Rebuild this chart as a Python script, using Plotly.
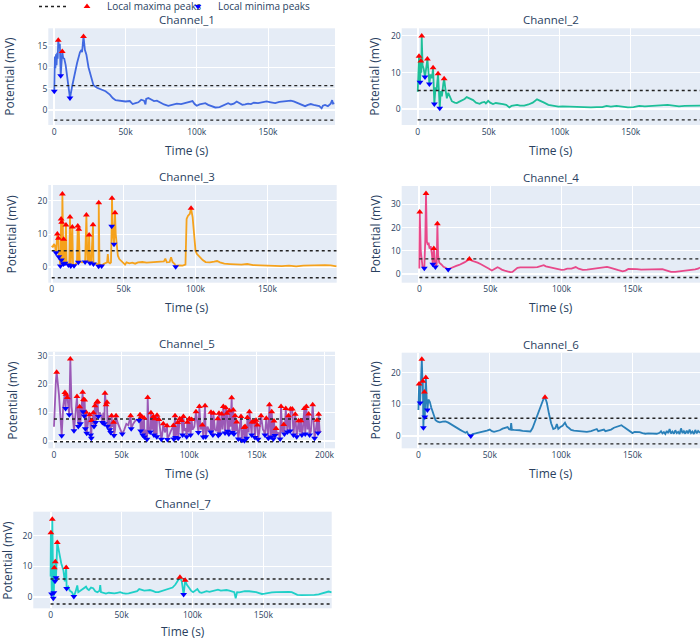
import plotly.graph_objects as go

# ---------------- data (time in thousands of seconds, potential in mV) ----------------
ch1_t = [0.4, 0.8, 1.2, 1.6, 2.0, 2.4, 3.4, 3.9, 5.0, 6.2, 7.0, 8.0, 9.0, 10.0, 12.5, 14, 16, 18, 19, 19.5,
         21.5, 22.5, 24, 25.5, 27.5, 30, 33, 36, 39, 41, 43, 46, 50, 53, 55, 57, 59, 61, 63, 64, 64.5, 66, 68, 70,
         72, 74, 77, 80, 83, 86, 89, 92, 95, 97, 98.5, 100, 102, 104, 106, 108, 110, 113, 116, 118, 120, 122, 124,
         126, 128, 130, 132, 134, 136, 138, 140, 143, 146, 149, 152, 155, 158, 161, 164, 166, 168, 170, 172, 174,
         176, 178, 180, 182, 184, 186, 187.6, 188.5, 190, 192, 194, 195, 195.6, 196.5]
ch1_v = [12.5, 9.8, 13.0, 10.5, 13.4, 12.0, 14.5, 15.5, 11.5, 12.2, 12.0, 10.5, 8.0, 5.0, 5.5, 8.0, 11.0, 13.5, 14.0, 13.5,
         14.0, 13.0, 10.0, 8.0, 5.8, 5.2, 4.8, 4.4, 3.6, 2.8, 2.3, 2.1, 2.0, 2.1, 1.4, 1.6, 1.8, 2.4, 2.2, 1.3, 2.6, 2.8, 2.4, 2.1,
         2.2, 1.8, 1.3, 1.0, 1.2, 1.5, 1.4, 1.6, 1.8, 2.1, 1.4, 1.0, 1.3, 1.5, 1.6, 1.2, 0.9, 0.6, 0.7, 1.0, 1.2, 1.6, 1.3,
         1.5, 2.0, 1.5, 1.2, 1.3, 1.5, 1.4, 1.7, 1.6, 1.8, 2.0, 1.8, 1.6, 1.9, 2.0, 2.1, 2.2, 2.0, 1.7, 1.5, 1.1,
         0.9, 1.2, 1.4, 1.2, 1.0, 0.9, 0.4, 1.0, 1.2, 0.9, 1.5, 2.3, 1.5, 1.6]
ch1_max_t = [2.8, 5.6, 20.5]
ch1_max_v = [16.3, 13.7, 17.2]
ch1_min_t = [0.0, 4.5, 11.0]
ch1_min_v = [4.4, 8.0, 2.8]
ch1_thr = [5.7, -2.35]

ch2_t = [0, 0.4, 2.5, 3.4, 4.2, 5.8, 7.5, 9.0, 10.0, 12.5, 13.2, 14.9, 16.2, 17, 18, 19.5, 20.5, 21.5, 22.8, 24, 26,
         27.5, 29, 31, 33, 34.5, 36, 38, 39, 41, 43.6, 45, 47, 48, 49.6, 51, 53, 55, 57, 60, 62.3, 64.5, 66, 68, 70, 72,
         75, 78, 81, 84, 86, 89, 92, 95, 99, 102, 106, 110, 114, 118, 122, 126, 130, 133, 136, 140, 144, 148, 152, 156,
         160, 164, 168, 172, 176, 180, 184, 188, 192, 196, 198.8]
ch2_v = [4.8, 10.0, 10.0, 12.0, 11.0, 11.5, 10.5, 9.5, 8.5, 6.0, 5.0, 4.5, 5.0, 3.5, 7.0, 5.5, 3.0, 4.5, 3.0, 2.2, 1.8,
         1.7, 2.0, 2.3, 2.8, 3.3, 3.0, 2.6, 2.5, 1.8, 1.5, 1.8, 2.0, 1.6, 2.3, 1.8, 1.4, 1.7, 1.5, 1.4, 1.2, 0.5, 0.9, 1.1, 1.2, 1.0,
         1.0, 1.3, 1.8, 2.7, 2.4, 1.8, 1.2, 1.0, 0.7, 0.8, 0.7, 0.8, 0.5, 0.4, 0.5, 0.6, 0.6, 0.9, 0.7, 0.9, 0.7, 0.5, 0.6, 0.9,
         0.8, 0.9, 1.1, 1.1, 1.2, 1.0, 0.8, 0.9, 1.0, 1.1, 1.0]
ch2_max_t = [0.9, 2.2, 2.8, 6.8, 10.8, 14.3, 18.6]
ch2_max_v = [14.5, 13.2, 20.0, 13.7, 11.3, 9.7, 8.3]
ch2_min_t = [1.6, 5.1, 8.2, 11.7, 15.5]
ch2_min_v = [7.4, 8.8, 6.9, 1.4, 0.3]
ch2_thr = [5.1, -2.9]

ch3_t = [0, 0.8, 1.5, 2.2, 5.5, 7.1, 7.7, 8.7, 10.3, 11, 12.2, 14.8, 16.5, 17.5, 19.5, 21, 22, 24.8, 25.5, 27.5, 30.5,
         31.5, 33.2, 34, 36, 37.5, 38.5, 39, 39.5, 40.5, 41.2, 42.5, 43, 43.7, 44.5, 45, 46, 47, 48.5, 50, 51, 52, 54, 56,
         58, 60, 63, 66, 69, 72, 75, 78, 79, 80, 82, 83, 84, 85.5, 87, 89, 91, 93, 93.8, 94.8, 96, 98, 99, 100, 101, 102,
         103.5, 105, 107, 110, 113, 115, 117, 120, 124, 128, 132, 136, 140, 145, 150, 155, 160, 165, 170, 175, 180, 185,
         190, 194, 198.2]
ch3_v = [6.5, 6.0, 7.0, 6.5, 2.5, 5.0, 2.0, 1.5, 1.5, 1.0, 1.2, 1.0, 1.0, 1.5, 1.8, 1.5, 1.5, 1.8, 1.5, 1.8, 1.2,
         1.0, 1.0, 0.8, 1.0, 1.2, 1.5, 4.0, 1.5, 1.2, 1.5, 10.0, 8.0, 12.0, 10.0, 7.0, 3.5, 2.5, 1.8, 1.0, 0.8, 1.5, 1.2, 1.4,
         1.1, 1.5, 1.6, 1.4, 1.5, 1.7, 1.6, 1.8, 2.6, 1.5, 1.6, 3.0, 1.6, 1.0, 0.5, 0.6, 0.5, 0.8, 14.5, 15.5, 16.0, 15.0, 10.0,
         5.0, 4.0, 3.5, 2.8, 2.2, 1.6, 1.5, 1.7, 1.9, 1.5, 1.1, 1.0, 0.9, 0.8, 1.0, 0.7, 0.6, 0.5, 0.6, 0.4, 0.5, 0.3, 0.5,
         0.6, 0.5, 0.7, 0.6, 0.3]
ch3_max_t = [3.9, 4.6, 6.5, 6.9, 7.4, 8.3, 9.9, 12.7, 14.3, 18.1, 18.8, 24.1, 26.0, 28.7, 32.7, 41.9, 44.0, 96.9]
ch3_max_v = [10.0, 8.7, 14.5, 13.5, 22.0, 8.4, 12.7, 15.1, 12.1, 12.4, 11.4, 15.7, 9.7, 12.8, 19.4, 20.7, 16.4, 17.7]
ch3_min_t = [3.0, 4.9, 6.0, 6.7, 8.1, 9.2, 11.6, 13.2, 15.5, 18.5, 23.2, 26.6, 29.0, 32.6, 34.7, 41.7, 43.3, 86.2]
ch3_min_v = [4.4, 3.2, 0.4, 2.2, 1.0, 1.2, 0.7, 0.4, 0.5, 1.5, 1.6, 1.3, 1.0, 0.3, 0.4, 12.3, 6.9, 0.2]
ch3_thr = [5.0, -3.1]

ch4_t = [0, 1.0, 1.5, 2.2, 4.2, 5.3, 6.0, 6.5, 7.2, 8.0, 8.8, 10.8, 12.2, 13.2, 14, 15.5, 17, 18.5, 22, 24, 26, 28,
         30, 32, 33.5, 37, 39, 41, 43, 45, 47, 49, 51, 53, 55, 56.5, 58, 60, 62, 64, 65.5, 67, 69, 71, 74, 77, 80, 83, 86,
         87.5, 89, 92, 95, 98, 100, 102, 104, 107, 110, 112, 115, 118, 121, 124, 127, 130, 132, 134, 137, 140, 143, 145,
         147, 150, 153, 156, 159, 162, 165, 168, 171, 173, 175, 177, 180, 183, 186, 189, 192, 194, 196, 197.4]
ch4_v = [2.5, 10.0, 6.0, 3.5, 15.0, 14.0, 12.5, 13.5, 11.0, 12.0, 9.0, 5.0, 4.5, 8.0, 5.0, 4.2, 3.2, 2.8, 2.6, 3.2, 3.6, 4.0,
         4.5, 5.2, 5.8, 5.8, 5.5, 5.0, 4.4, 3.8, 3.0, 2.4, 1.6, 2.2, 3.0, 2.6, 2.0, 1.6, 1.2, 0.9, 1.0, 1.8, 2.8, 3.0, 2.9, 3.0,
         3.0, 3.1, 3.5, 3.9, 3.4, 3.0, 2.8, 2.2, 1.9, 2.0, 2.4, 2.4, 3.1, 2.4, 1.9, 2.0, 2.2, 2.5, 2.6, 3.0, 3.2, 2.9, 2.5, 1.8,
         1.3, 1.6, 2.3, 2.4, 2.2, 2.0, 2.0, 2.1, 2.0, 2.2, 2.2, 1.8, 1.3, 1.0, 1.0, 1.2, 1.5, 1.5, 1.7, 2.1, 2.4, 2.9]
ch4_max_t = [0.3, 4.7, 10.2, 12.7, 35.2]
ch4_max_v = [26.7, 34.6, 11.0, 21.6, 6.6]
ch4_min_t = [3.5, 9.5, 11.3, 20.3]
ch4_min_v = [2.6, 4.3, 3.1, 2.1]
ch4_thr = [6.6, -1.4]

ch5_t = [0, 0.8, 1.4, 3.0, 3.7, 4.4, 5.0, 6.8, 10.5, 13.0, 14.0, 15.8, 16.5, 24.8, 25.6, 28.5, 33.8, 34.8, 36.5, 40.2,
         43.2, 45.2, 47.0, 48.5, 52.0, 53.5, 55.0, 58.5, 60.0, 61.5, 67.5, 70.2, 72.5, 75.2, 78.5, 80.0, 82.0, 85.0,
         86.5, 90.6, 92.3, 96.5, 97.5, 99.3, 102.5, 103.8, 108.5, 113.5, 114.5, 119.0, 120.2, 124.6, 130.5, 134.5,
         137.0, 139.5, 144.0, 145.5, 151.8, 154.5, 155.2, 165.0, 166.0, 168.8, 181.8, 184.0, 187.5, 190.0, 193.5,
         196.5, 197.5]
ch5_v = [5.0, 20.0, 21.0, 20.0, 16.2, 11.0, 6.0, 12.0, 13.0, 12.0, 8.0, 9.0, 12.0, 6.0, 8.0, 6.0, 10.0, 9.0, 10.0, 9.0,
         5.0, 4.0, 6.5, 5.0, 4.0, 6.0, 5.5, 6.0, 7.0, 7.5, 4.0, 2.5, 4.0, 3.0, 3.5, 2.0, 3.0, 2.0,
         3.5, 3.0, 3.0, 3.5, 4.5, 3.0, 4.0, 5.0, 4.0, 5.0, 4.0, 4.0, 3.5, 4.0, 5.0, 3.5,
         3.0, 3.0, 3.0, 4.0, 3.0, 4.0, 3.5, 2.0, 3.0, 3.0, 3.0, 4.0, 4.0, 3.5, 3.5,
         3.0, 3.5]
ch5_max_t = [2.0, 8.1, 8.9, 9.9, 12.1, 17.0, 19.0, 21.2, 21.9, 22.7, 23.7, 26.4, 27.9, 29.1, 30.3, 31.6, 32.3, 37.7,
             38.5, 39.2, 42.6, 44.1, 45.9, 56.7, 63.6, 64.8, 66.6, 69.3, 71.7, 73.5, 74.7, 76.2, 77.6, 80.8, 83.6, 88.3,
             89.5, 91.5, 93.0, 94.4, 95.7, 98.6, 100.1, 101.8, 105.0, 107.5, 109.7, 111.7, 116.1, 117.9, 121.1, 122.0,
             124.0, 125.2, 127.0, 127.9, 129.7, 131.4, 132.6, 133.9, 135.1, 138.3, 140.5, 141.3, 143.0, 144.5, 146.5,
             147.9, 149.4, 150.4, 153.1, 157.0, 159.3, 161.0, 162.7, 164.2, 167.9, 169.9, 171.4, 173.4, 174.9, 176.2,
             178.4, 180.9, 182.6, 185.1, 186.6, 188.3, 191.3, 194.5, 195.7]
ch5_max_v = [24.2, 17.0, 16.4, 15.3, 28.8, 15.6, 12.0, 17.1, 14.6, 14.4, 10.1, 9.2, 7.2, 9.9, 12.4, 13.6, 13.9, 16.8,
             12.7, 13.6, 8.9, 6.6, 8.9, 8.9, 9.2, 8.6, 8.1, 15.3, 9.9, 8.6, 7.8, 9.0, 7.5, 6.0, 5.3, 5.4,
             8.9, 6.5, 7.8, 7.2, 8.6, 6.6, 7.8, 7.5, 10.3, 12.1, 5.6, 12.4, 10.1, 9.7, 7.8, 9.7,
             9.5, 12.1, 11.7, 9.7, 10.6, 15.2, 10.9, 8.9, 6.7, 8.6, 4.7, 5.1, 8.2, 10.3, 6.7,
             6.7, 7.3, 5.6, 8.9, 8.0, 12.7, 10.3, 7.0, 4.4, 12.1, 5.8, 11.4, 8.9, 11.2, 11.2,
             9.4, 7.1, 7.1, 11.4, 12.1, 9.5, 12.7, 7.3, 9.4]
ch5_min_t = [5.7, 8.6, 11.3, 14.8, 18.0, 19.5, 21.5, 22.4, 23.2, 24.2, 27.1, 27.6, 29.6, 30.8, 32.8, 35.8, 37.2, 39.6,
             41.2, 41.9, 44.4, 50.5, 57.1, 62.9, 64.1, 65.6, 66.9, 68.8, 71.3, 73.9, 76.0, 79.4, 83.9, 88.6, 89.9, 91.8,
             95.1, 98.1, 101.0, 106.8, 110.4, 112.2, 115.9, 117.5, 121.5, 122.7, 126.5, 128.5, 129.3, 131.9, 133.1,
             136.3, 138.8, 140.8, 142.5, 146.2, 148.6, 150.9, 156.0, 158.5, 160.5, 162.2, 163.4, 167.2, 170.4, 172.6,
             174.6, 177.1, 179.5, 183.3, 185.8, 189.0, 192.7, 195.2]
ch5_min_v = [1.8, 11.4, 9.2, 3.6, 5.1, 6.0, 10.3, 8.8, 4.3, 2.7, 2.1, 0.9, 5.1, 6.5, 8.6, 6.5, 6.0, 5.2,
             3.9, 3.0, 1.9, 2.4, 4.3, 7.2, 3.5, 2.1, 1.4, 0.6, 3.1, 2.1, 1.5, 0.6, 0.5, 0.7, 1.2, 0.9,
             2.1, 1.5, 2.1, 3.0, 1.4, 1.5, 3.1, 2.1, 1.9, 2.4, 2.8, 3.4, 2.4, 3.0, 2.4,
             0.7, 0.2, 0.1, 0.9, 2.1, 1.2, 0.6, 2.1, 0.9, 1.4, 0.7, 1.9, 0.7, 2.4, 3.1,
             3.5, 2.1, 1.5, 2.1, 2.4, 2.1, 0.9, 2.8]
ch5_thr = [7.7, -0.3]

ch6_t = [0, 1.8, 2.8, 4.8, 5.8, 7, 8, 9, 10, 11, 12, 13.5, 15, 17, 19, 21, 23, 25, 27, 29, 31, 33, 34, 35, 38, 40, 42,
         44, 46, 48, 50, 51.5, 53, 55, 57, 59, 61, 62.5, 63.5, 64.5, 65, 65.5, 67, 69, 71, 73, 75, 77, 78.5, 80, 82, 84,
         86, 87.5, 90, 91.5, 93, 94.5, 96, 97, 98, 99.5, 101, 102.7, 104, 105.5, 107, 109, 112, 115, 118, 121, 123, 125,
         126, 128, 130, 131, 133, 135, 137, 139, 141, 142.3, 144, 146, 148, 150, 151.5, 153, 155, 157, 159, 161, 163,
         165, 167, 169, 170, 171, 172, 173, 174, 175, 176, 177, 178, 179, 180, 181, 182, 183, 184, 185, 186, 187, 188,
         189, 190, 191, 192, 193, 194, 195, 196, 197.3]
ch6_v = [8.2, 18.0, 18.0, 14.0, 12.0, 11.5, 10.8, 9.0, 7.5, 6.0, 5.0, 4.5, 4.3, 4.5, 4.6, 4.2, 3.6, 3.2, 2.5, 2.0, 1.5, 1.0,
         1.3, 0.5, 0.6, 0.8, 1.0, 1.1, 1.3, 1.7, 2.0, 1.5, 1.3, 1.5, 1.8, 2.3, 2.6, 2.8, 2.1, 2.0, 4.1, 2.0, 1.9, 1.9, 1.8,
         1.6, 1.5, 1.3, 1.4, 2.5, 5.0, 7.5, 10.0, 11.5, 10.5, 7.0, 4.0, 2.2, 2.5, 3.8, 2.2, 2.8, 3.2, 4.2, 3.0, 2.5, 1.9,
         1.7, 1.5, 1.4, 1.3, 1.5, 1.8, 2.2, 1.5, 1.8, 2.0, 1.5, 1.7, 2.0, 2.6, 3.0, 3.3, 3.4, 2.8, 2.2, 1.5, 0.9, 1.3,
         1.3, 1.2, 0.9, 0.7, 0.8, 0.8, 0.9, 0.7, 1.0, 1.5, 0.8, 1.2, 0.6, 1.6, 0.9, 2.2, 0.8, 1.4, 0.7, 1.8, 0.9, 1.3,
         0.6, 2.4, 0.9, 1.5, 0.7, 1.7, 0.8, 2.0, 0.9, 1.4, 0.6, 1.9, 0.8, 1.6, 1.0]
ch6_max_t = [0.5, 2.4, 3.1, 4.2, 5.2, 88.7]
ch6_max_v = [16.4, 24.2, 17.3, 13.9, 18.5, 12.2]
ch6_min_t = [1.2, 3.5, 4.5, 6.3, 36.7]
ch6_min_v = [10.4, 2.6, 6.0, 8.2, 0.0]
ch6_thr = [5.6, -2.5]

ch7_t = [0, 5.5, 6.6, 7.5, 9.0, 10.0, 12.4, 13.5, 15, 17.5, 18.8, 19.5, 21, 23, 25, 26, 27, 28.5, 30, 31.5, 33, 34.5,
         35, 35.5, 37, 39, 41, 43, 45, 47, 49, 51, 53, 55, 57, 59, 61, 62.5, 64, 66, 68, 70, 72, 74, 76, 78, 80, 82, 84,
         86, 88, 90, 92.5, 96, 97.5, 99, 100.5, 102, 103.5, 105, 106.5, 108, 110, 112, 114, 116, 118, 120, 122, 124, 126,
         128, 129.5, 130.5, 131.5, 133, 135, 137, 140, 143, 145, 147, 149, 151, 153, 156, 159, 162, 165, 168, 170, 172,
         174, 177, 180, 183, 186, 189, 192, 194, 196, 198.2]
ch7_v = [6.6, 15.5, 13.1, 11.0, 8.7, 5.0, 3.3, 2.0, 1.5, 1.5, 3.7, 1.5, 2.0, 2.5, 3.3, 2.5, 2.2, 3.0, 2.8, 1.8, 1.5, 2.0,
         3.8, 1.5, 1.2, 1.0, 1.3, 1.2, 1.1, 1.3, 1.5, 1.2, 1.0, 1.1, 1.3, 1.6, 1.8, 2.5, 2.2, 2.0, 2.1, 2.2, 1.9, 1.5, 1.5,
         1.8, 2.0, 2.2, 2.6, 3.0, 4.0, 5.5, 5.0, 4.0, 3.0, 2.0, 1.5, 2.0, 2.5, 1.5, 1.3, 1.5, 1.8, 1.6, 1.8, 2.0, 2.3, 2.0,
         2.1, 2.2, 2.0, 1.6, 1.5, -0.5, 1.5, 1.4, 1.6, 1.8, 1.8, 1.7, 1.5, 1.2, 0.9, 1.0, 1.2, 1.4, 1.5, 1.6, 1.7, 1.6, 1.5,
         1.0, 0.6, 0.5, 0.5, 0.5, 0.6, 0.8, 1.2, 1.5, 1.7, 1.4]
ch7_max_t = [0.2, 1.2, 2.6, 3.3, 4.7, 11.0, 91.2, 94.9]
ch7_max_v = [21.0, 25.4, 9.5, 11.5, 17.8, 9.6, 6.4, 5.4]
ch7_min_t = [0.7, 1.9, 2.3, 3.1, 3.8, 11.3, 16.4, 93.8]
ch7_min_v = [0.9, -0.5, 1.3, 5.1, 6.2, 2.7, 0.1, 0.7]
ch7_thr = [5.8, -2.4]

channel_names = ["Channel_1", "Channel_2", "Channel_3", "Channel_4", "Channel_5", "Channel_6", "Channel_7"]
channel_colors = ["#4169E1", "#1DBF98", "#F5A21C", "#E8488A", "#9B59B6", "#2A80B9", "#1FD0C8"]
y_dticks = [5, 10, 10, 10, 10, 10, 10]
x_title_text = "Time (s)"
y_title_text = "Potential (mV)"

series = [
    (ch1_t, ch1_v, ch1_max_t, ch1_max_v, ch1_min_t, ch1_min_v, ch1_thr),
    (ch2_t, ch2_v, ch2_max_t, ch2_max_v, ch2_min_t, ch2_min_v, ch2_thr),
    (ch3_t, ch3_v, ch3_max_t, ch3_max_v, ch3_min_t, ch3_min_v, ch3_thr),
    (ch4_t, ch4_v, ch4_max_t, ch4_max_v, ch4_min_t, ch4_min_v, ch4_thr),
    (ch5_t, ch5_v, ch5_max_t, ch5_max_v, ch5_min_t, ch5_min_v, ch5_thr),
    (ch6_t, ch6_v, ch6_max_t, ch6_max_v, ch6_min_t, ch6_min_v, ch6_thr),
    (ch7_t, ch7_v, ch7_max_t, ch7_max_v, ch7_min_t, ch7_min_v, ch7_thr),
]

# ---------------- layout geometry (pixels in a 700x640 page) ----------------
W, H = 700, 640
plot_px = [  # (x0, x1, y_top, y_bottom)
    (48.3, 335.0, 28.3, 125.0),
    (401.7, 700.0, 28.3, 125.0),
    (48.3, 336.7, 185.0, 282.7),
    (401.7, 700.0, 186.0, 282.7),
    (48.3, 335.0, 351.7, 448.3),
    (401.7, 700.0, 352.7, 448.3),
    (33.3, 331.7, 511.7, 608.3),
]
x_ranges = [(-4.2, 197.0), (-11.3, 198.8), (-2.4, 198.2), (-12.4, 197.4), (-4.2, 207.8), (-11.7, 197.3), (-12.2, 198.2)]
y_ranges = [(-3.5, 19.1), (-4.3, 22.1), (-4.6, 24.7), (-3.6, 37.8), (-2.6, 31.4), (-3.9, 26.3), (-3.8, 27.9)]
title_cx = [187.0, 550.5, 187.3, 550.8, 187.3, 550.8, 182.5]   # centre of subplot / x-axis titles
ytitle_x = [10.0, 375.0, 11.7, 375.0, 11.7, 375.0, 6.7]        # centre of y-axis titles
xtitle_gap = [25, 25, 25, 25, 25, 25, 23.5]                    # x-title centre below plot area

fig = go.Figure()
layout_axes = {}
annotations = []
for i, (t, v, mt, mv, nt, nv, thr) in enumerate(series):
    n = i + 1
    xa = "x" if n == 1 else f"x{n}"
    ya = "y" if n == 1 else f"y{n}"
    # combine base samples with the detected extrema to form the full trace
    pts = sorted(list(zip(t, v)) + list(zip(mt, mv)) + list(zip(nt, nv)))
    lt = [p[0] * 1000 for p in pts]
    lv = [p[1] for p in pts]
    fig.add_trace(go.Scatter(x=lt, y=lv, mode="lines", name=channel_names[i],
                             line=dict(color=channel_colors[i], width=1.8),
                             xaxis=xa, yaxis=ya, showlegend=False))
    t_end = lt[-1]
    for k, level in enumerate(thr):
        fig.add_trace(go.Scatter(x=[0, t_end], y=[level, level], mode="lines", name=" ",
                                 line=dict(color="#222222", width=1.4, dash="dot"),
                                 xaxis=xa, yaxis=ya, legend="legend2",
                                 showlegend=(n == 1 and k == 0)))
    fig.add_trace(go.Scatter(x=[a * 1000 for a in mt], y=mv, mode="markers", name="Local maxima peaks",
                             marker=dict(symbol="triangle-up", color="red", size=6),
                             xaxis=xa, yaxis=ya, showlegend=(n == 1), legendwidth=66))
    fig.add_trace(go.Scatter(x=[a * 1000 for a in nt], y=nv, mode="markers", name="Local minima peaks",
                             marker=dict(symbol="triangle-down", color="blue", size=6),
                             xaxis=xa, yaxis=ya, showlegend=(n == 1), legendwidth=140))

    x0, x1, yt, yb = plot_px[i]
    dom_x = [x0 / W, x1 / W]
    dom_y = [1 - yb / H, 1 - yt / H]
    layout_axes["xaxis" if n == 1 else f"xaxis{n}"] = dict(
        domain=dom_x, anchor=ya, range=[x_ranges[i][0] * 1000, x_ranges[i][1] * 1000],
        dtick=50000, tickfont=dict(size=8.5), automargin=False)
    layout_axes["yaxis" if n == 1 else f"yaxis{n}"] = dict(
        domain=dom_y, anchor=xa, range=list(y_ranges[i]), dtick=y_dticks[i],
        tickfont=dict(size=8.5), automargin=False)
    # subplot title
    annotations.append(dict(text=channel_names[i], x=title_cx[i] / W, y=dom_y[1],
                            xref="paper", yref="paper", xanchor="center", yanchor="bottom",
                            yshift=-1, showarrow=False, font=dict(size=11.5)))
    # x-axis title
    annotations.append(dict(text=x_title_text, x=title_cx[i] / W, y=1 - (yb + xtitle_gap[i]) / H,
                            xref="paper", yref="paper", xanchor="center", yanchor="middle",
                            showarrow=False, font=dict(size=12)))
    # y-axis title
    annotations.append(dict(text=y_title_text, x=ytitle_x[i] / W, y=(dom_y[0] + dom_y[1]) / 2,
                            xref="paper", yref="paper", xanchor="center", yanchor="middle",
                            textangle=-90, showarrow=False, font=dict(size=12)))

fig.update_layout(
    template="plotly",
    width=W, height=H,
    margin=dict(l=0, r=0, t=0, b=0, autoexpand=False),
    font=dict(family="Open Sans, verdana, arial, sans-serif"),
    annotations=annotations,
    legend=dict(orientation="h", x=67 / W, y=1.0125, xanchor="left", yanchor="top",
                font=dict(size=10), bgcolor="rgba(0,0,0,0)"),
    legend2=dict(orientation="h", x=34 / W, y=1.0125, xanchor="left", yanchor="top",
                 font=dict(size=10), bgcolor="rgba(0,0,0,0)"),
    **layout_axes,
)

fig.write_html("out.html")
